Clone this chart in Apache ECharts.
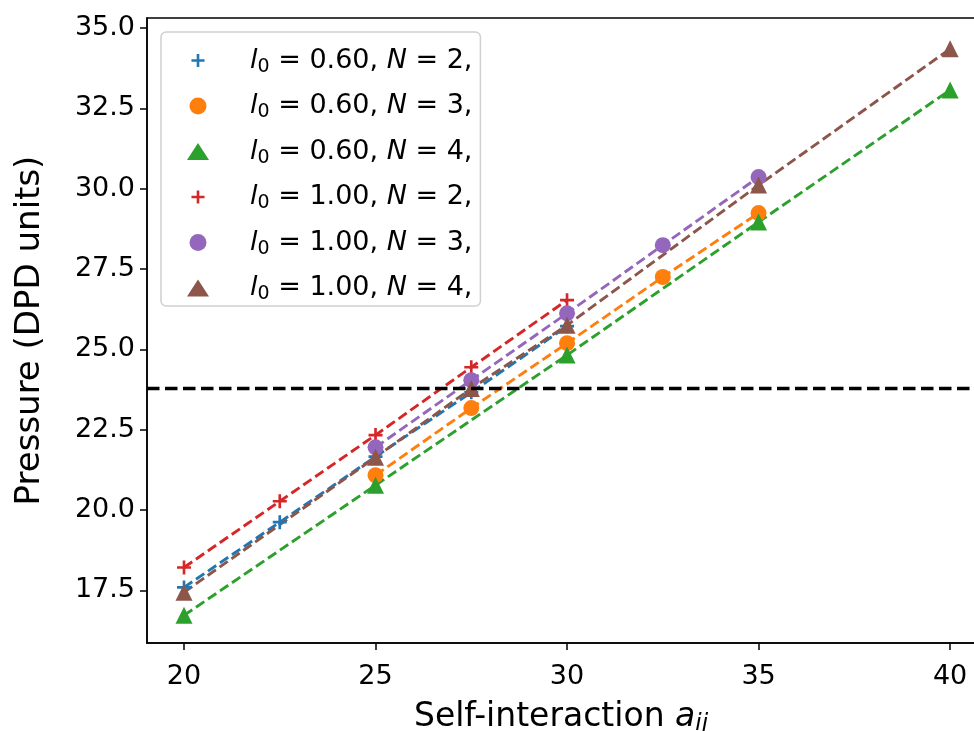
<!DOCTYPE html>
<html>
<head>
<meta charset="utf-8">
<script src="https://cdn.jsdelivr.net/npm/echarts@6/dist/echarts.min.js"></script>
<style>html,body{margin:0;padding:0;background:#fff}#c{width:974px;height:731px}</style>
</head>
<body>
<div id="c"></div>
<script>
// ---- data ----
const xTicks = [20, 25, 30, 35, 40];
const yTicks = [17.5, 20.0, 22.5, 25.0, 27.5, 30.0, 32.5, 35.0];
const thresholdPressure = 23.78;

const x_l060_N2 = [20, 22.5, 25, 27.5, 30];
const y_l060_N2 = [17.59, 19.62, 21.66, 23.66, 25.72];
const x_l060_N3 = [25, 27.5, 30, 32.5, 35];
const y_l060_N3 = [21.08, 23.17, 25.19, 27.25, 29.24];
const x_l060_N4 = [20, 25, 30, 35, 40];
const y_l060_N4 = [16.72, 20.77, 24.82, 28.96, 33.07];
const x_l100_N2 = [20, 22.5, 25, 27.5, 30];
const y_l100_N2 = [18.21, 20.27, 22.33, 24.44, 26.53];
const x_l100_N3 = [25, 27.5, 30, 32.5, 35];
const y_l100_N3 = [21.95, 24.04, 26.12, 28.24, 30.36];
const x_l100_N4 = [20, 25, 27.5, 30, 35, 40];
const y_l100_N4 = [17.44, 21.64, 23.78, 25.75, 30.11, 34.35];

const seriesDefs = [
  {name: 'a', l0: '0.60', N: '2', xs: x_l060_N2, ys: y_l060_N2, color: '#1f77b4', sym: 'plus'},
  {name: 'b', l0: '0.60', N: '3', xs: x_l060_N3, ys: y_l060_N3, color: '#ff7f0e', sym: 'circle'},
  {name: 'c', l0: '0.60', N: '4', xs: x_l060_N4, ys: y_l060_N4, color: '#2ca02c', sym: 'triangle'},
  {name: 'd', l0: '1.00', N: '2', xs: x_l100_N2, ys: y_l100_N2, color: '#d62728', sym: 'plus'},
  {name: 'e', l0: '1.00', N: '3', xs: x_l100_N3, ys: y_l100_N3, color: '#9467bd', sym: 'circle'},
  {name: 'f', l0: '1.00', N: '4', xs: x_l100_N4, ys: y_l100_N4, color: '#8c564b', sym: 'triangle'}
];

const PLUS = 'path://M-0.95,-5H0.95V-0.95H5V0.95H0.95V5H-0.95V0.95H-5V-0.95H-0.95Z';
const PLUS_LEG = 'path://M-6.5,-6.5h0.01v0.01h-0.01Z M6.5,6.5h-0.01v-0.01h0.01Z M-1,-5H1V-1H5V1H1V5H-1V1H-5V-1H-1Z';
const symMap = {plus: PLUS, circle: 'circle', triangle: 'triangle'};
const legMap = {plus: PLUS_LEG, circle: 'circle', triangle: 'triangle'};
const symSize = {plus: 14, circle: 16, triangle: 17};
const FONT = 'DejaVu Sans';

const series = seriesDefs.map(d => ({
  name: d.name,
  type: 'line',
  data: d.xs.map((x, i) => [x, d.ys[i]]),
  symbol: symMap[d.sym],
  symbolSize: symSize[d.sym],
  showAllSymbol: true,
  itemStyle: {color: d.color, opacity: 1},
  lineStyle: {color: d.color, width: 2.9, type: [10, 4.5]},
  animation: false
}));
series.push({
  name: 'thr',
  type: 'line',
  data: [],
  markLine: {
    silent: true,
    symbol: 'none',
    label: {show: false},
    lineStyle: {color: '#000', width: 3.3, type: [12.5, 5.5]},
    data: [{yAxis: thresholdPressure}]
  },
  animation: false,
  z: 1
});

const LFS = 27;
const rich = {
  it: {fontFamily: FONT, fontStyle: 'italic', fontSize: LFS, color: '#000'},
  n: {fontFamily: FONT, fontSize: LFS, color: '#000'},
  sub: {fontFamily: FONT, fontSize: 19, color: '#000', padding: [13, 0, 0, 0]}
};
const richX = {
  it: {fontFamily: FONT, fontStyle: 'italic', fontSize: 33, color: '#000'},
  sub: {fontFamily: FONT, fontStyle: 'italic', fontSize: 23, color: '#000', padding: [15, 0, 0, 0]}
};

const chart = echarts.init(document.getElementById('c'), null, {renderer: 'canvas'});
chart.setOption({
  backgroundColor: '#fff',
  animation: false,
  grid: {left: 147, right: -1, top: 18, bottom: 88, containLabel: false, outerBoundsMode: 'none', show: true, borderColor: '#000', borderWidth: 1.5, backgroundColor: 'transparent'},
  xAxis: {
    type: 'value', min: 19.034, max: 40.65,
    axisLine: {show: true, lineStyle: {color: '#000', width: 1.5}},
    axisTick: {show: true, length: 7, inside: false, lineStyle: {color: '#000', width: 1.5}, customValues: xTicks},
    axisLabel: {customValues: xTicks, fontFamily: FONT, fontSize: 27, color: '#000', margin: 20},
    splitLine: {show: false},
    name: 'Self-interaction {it|a}{sub|ij}',
    nameLocation: 'middle', nameGap: 55,
    nameTextStyle: {fontFamily: FONT, fontSize: 33, color: '#000', rich: richX}
  },
  yAxis: {
    type: 'value', min: 15.86, max: 35.31,
    axisLine: {show: true, lineStyle: {color: '#000', width: 1.5}},
    axisTick: {show: true, length: 7, lineStyle: {color: '#000', width: 1.5}, customValues: yTicks},
    axisLabel: {customValues: yTicks, fontFamily: FONT, fontSize: 27, color: '#000', margin: 12, formatter: v => v.toFixed(1)},
    splitLine: {show: false},
    name: 'Pressure (DPD units)',
    nameLocation: 'middle', nameGap: 100, nameRotate: 90,
    nameTextStyle: {fontFamily: FONT, fontSize: 34, color: '#000'}
  },
  legend: {
    orient: 'vertical',
    left: 161, top: 32,
    padding: [15, 8, 2, 26],
    backgroundColor: '#fff',
    borderColor: '#d0d0d0', borderWidth: 1.5, borderRadius: 5,
    itemGap: 16,
    itemWidth: 22, itemHeight: 17,
    data: seriesDefs.map(d => ({name: d.name, icon: legMap[d.sym], itemStyle: {color: d.color}})),
    formatter: name => {
      const d = seriesDefs.find(s => s.name === name);
      return '{it|l}{sub|0}{n| = ' + d.l0 + ', }{it|N}{n| = ' + d.N + ',}';
    },
    textStyle: {rich: rich, padding: [0, 0, 0, 36]}
  },
  series: series
});
</script>
</body>
</html>
